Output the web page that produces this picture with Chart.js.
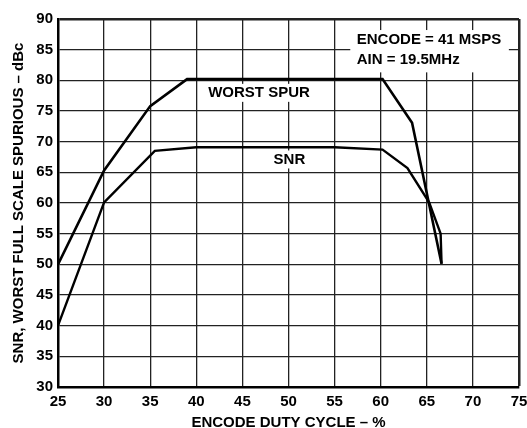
<!DOCTYPE html>
<html>
<head>
<meta charset="utf-8">
<script src="https://cdn.jsdelivr.net/npm/chart.js@4.4.1/dist/chart.umd.min.js"></script>
<style>
  html, body { margin: 0; padding: 0; background: #fff; }
  #wrap { width: 527px; height: 428px; }
</style>
</head>
<body>
<div id="wrap"><canvas id="snrChart" width="527" height="428"></canvas></div>
<script>
// data
const spurX = [25, 30, 35, 39, 60.2, 63.4, 66.6];
const spurY = [50, 65.3, 75.8, 80.2, 80.2, 73.1, 50.1];
const snrX = [25, 30, 35.5, 40, 55, 60.2, 62.9, 65.25, 66.5, 66.6];
const snrY = [40, 60.1, 68.5, 69.1, 69.1, 68.7, 65.7, 60.1, 55, 50.1];
const xTicks = [25, 30, 35, 40, 45, 50, 55, 60, 65, 70, 75];
const yTicks = [30, 35, 40, 45, 50, 55, 60, 65, 70, 75, 80, 85, 90];

const FONT = 'Liberation Sans, Arial, sans-serif';

function pts(xs, ys) {
    return xs.map((x, i) => ({ x: x, y: ys[i] }));
}

/* labels drawn on white boxes so the grid breaks behind them */
const labelsPlugin = {
    id: 'labels',
    beforeDatasetsDraw(chart) {
        const c = chart.ctx, xs = chart.scales.x, ys = chart.scales.y;
        c.save();
        c.font = 'bold 15px ' + FONT;
        c.textBaseline = 'middle';

        // condition box
        const bx1 = xs.getPixelForValue(56.7), bx2 = xs.getPixelForValue(73.9);
        const by1 = ys.getPixelForValue(88.2), by2 = ys.getPixelForValue(81.3);
        c.fillStyle = '#fff';
        c.fillRect(bx1, by1, bx2 - bx1, by2 - by1);
        c.fillStyle = '#000';
        c.textAlign = 'left';
        c.fillText('ENCODE = 41 MSPS', xs.getPixelForValue(57.4), ys.getPixelForValue(86.6));
        c.fillText('AIN = 19.5MHz', xs.getPixelForValue(57.4), ys.getPixelForValue(83.3));

        // curve names
        c.textAlign = 'center';
        [['WORST SPUR', 46.8, 77.96], ['SNR', 50.1, 67.1]].forEach(l => {
            const px = xs.getPixelForValue(l[1]), py = ys.getPixelForValue(l[2]);
            const w = c.measureText(l[0]).width + 6;
            c.fillStyle = '#fff';
            c.fillRect(px - w / 2, py - 9, w, 18);
            c.fillStyle = '#000';
            c.fillText(l[0], px, py);
        });
        c.restore();
    }
};

new Chart(document.getElementById('snrChart'), {
    type: 'line',
    data: {
        datasets: [
            { label: 'WORST SPUR', data: pts(spurX, spurY), borderColor: '#000', borderWidth: 2.6, pointRadius: 0, tension: 0 },
            { label: 'SNR', data: pts(snrX, snrY), borderColor: '#000', borderWidth: 2.4, pointRadius: 0, tension: 0 }
        ]
    },
    options: {
        responsive: false,
        animation: false,
        layout: { padding: { top: 19, right: 8, left: 0, bottom: 0 } },
        plugins: { legend: { display: false }, tooltip: { enabled: false } },
        scales: {
            x: {
                type: 'linear', min: 25, max: 75,
                afterBuildTicks: s => { s.ticks = xTicks.map(v => ({ value: v })); },
                afterFit: s => { s.height = 41; s.paddingRight = 0; s.paddingLeft = 0; },
                grid: {
                    color: '#222',
                    lineWidth: ctx => (ctx.tick && ctx.tick.value === 75) ? 2.5 : 1.3,
                    drawTicks: false
                },
                border: { color: '#000', width: 2.5 },
                ticks: { color: '#000', padding: 6, font: { family: FONT, size: 15, weight: 'bold' } },
                title: {
                    display: true, text: 'ENCODE DUTY CYCLE – %', color: '#000',
                    font: { family: FONT, size: 15, weight: 'bold' }, padding: { top: 0, bottom: -4 }
                }
            },
            y: {
                type: 'linear', min: 30, max: 90,
                afterBuildTicks: s => { s.ticks = yTicks.map(v => ({ value: v })); },
                afterFit: s => { s.width = 58; },
                grid: {
                    color: '#222',
                    lineWidth: ctx => (ctx.tick && ctx.tick.value === 90) ? 2.5 : 1.3,
                    drawTicks: false
                },
                border: { color: '#000', width: 2.5 },
                ticks: { color: '#000', padding: 5, font: { family: FONT, size: 15, weight: 'bold' } },
                title: {
                    display: true, text: 'SNR, WORST FULL SCALE SPURIOUS – dBc', color: '#000',
                    font: { family: FONT, size: 15, weight: 'bold' }, padding: { top: 10, bottom: 0 }
                }
            }
        }
    },
    plugins: [labelsPlugin]
});
</script>
</body>
</html>
